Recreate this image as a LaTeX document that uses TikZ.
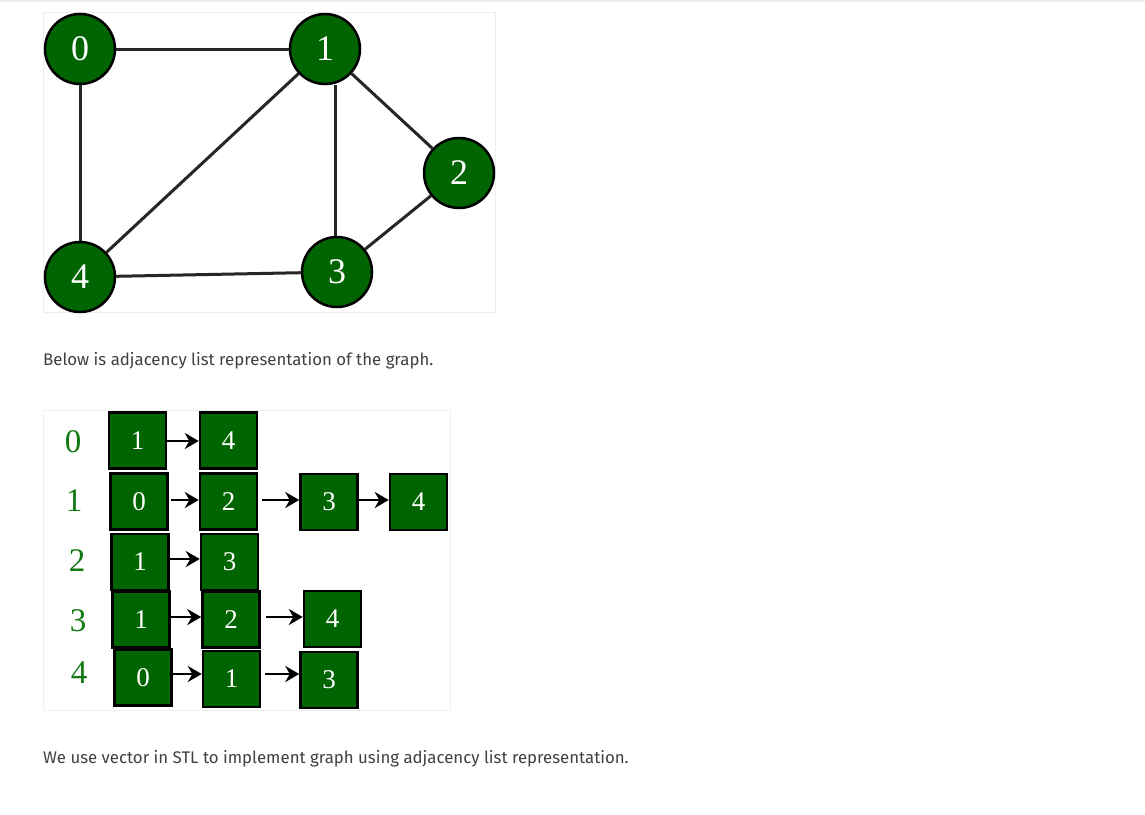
\documentclass[tikz,border=0pt]{standalone}
\usepackage{fontspec}
\setmainfont{Liberation Serif}
\newfontfamily\pagefont{Fira Sans}
\usetikzlibrary{arrows.meta}
\definecolor{gfgreen}{HTML}{006400}
\definecolor{labelgreen}{HTML}{137A13}
\definecolor{panelgray}{HTML}{EEEEEE}
\begin{document}
\begin{tikzpicture}[x=1pt, y=-1pt,
	vertex/.style={circle, draw=black, line width=2.5pt, fill=gfgreen, minimum size=70pt, inner sep=0pt, text=white, font=\fontsize{36}{36}\selectfont},
	cell/.style={rectangle, draw=black, line width=2.5pt, fill=gfgreen, minimum width=57pt, minimum height=56pt, inner sep=0pt, text=white, font=\fontsize{27}{27}\selectfont},
	head/.style={text=labelgreen, font=\fontsize{33}{33}\selectfont, inner sep=0pt},
	edge/.style={line width=3pt, draw=black!85},
	link/.style={line width=2.6pt, -{Stealth[length=14pt, width=16pt]}},
	prose/.style={anchor=base west, inner sep=0pt, text=black!75, font=\pagefont\fontsize{16.8}{20}\selectfont}]
	\useasboundingbox [fill=white] (0,0) rectangle (1145,814);
	\draw [panelgray, line width=3pt] (0,0) -- (1145,0);
	\draw [panelgray, line width=0.8pt] (43,12) rectangle (495,312);
	\draw [panelgray, line width=0.8pt] (43,410) rectangle (450,710);
	% the graph
	\node [vertex] (v0) at (80,49) {0};
	\node [vertex] (v1) at (325,49) {1};
	\node [vertex] (v2) at (459,173) {2};
	\node [vertex] (v3) at (337,272) {3};
	\node [vertex] (v4) at (80,277) {4};
	\coordinate (t13) at (335,85);
	\draw [edge] (v0) -- (v1);
	\draw [edge] (v0) -- (v4);
	\draw [edge] (v1) -- (v2);
	\draw [edge] (v1) -- (v4);
	\draw [edge] (t13) -- (t13 |- v3.north);
	\draw [edge] (v2) -- (v3);
	\draw [edge] (v3) -- (v4);
	\node [prose] (txt1) at (43,365) {Below is adjacency list representation of the graph.};
	% adjacency list
	\node [head] (h0) at (73,442) {0};
	\node [head] (h1) at (74,501) {1};
	\node [head] (h2) at (77,561) {2};
	\node [head] (h3) at (78,621) {3};
	\node [head] (h4) at (79,673) {4};
	\node [cell] (a01) at (137.5,440.5) {1};
	\node [cell] (a04) at (228.5,440.5) {4};
	\node [cell] (a10) at (139,501.5) {0};
	\node [cell] (a12) at (228.5,501.5) {2};
	\node [cell] (a13) at (329,502) {3};
	\node [cell] (a14) at (418.5,502) {4};
	\node [cell] (a21) at (140,562) {1};
	\node [cell] (a23) at (229.5,562) {3};
	\node [cell] (a31) at (141,619.5) {1};
	\node [cell] (a32) at (231,619.5) {2};
	\node [cell] (a34) at (332.5,619) {4};
	\node [cell] (a40) at (143,677.5) {0};
	\node [cell] (a41) at (231.5,679) {1};
	\node [cell] (a43) at (329,680) {3};
	\draw [link] (a01.east |- 0,441) -- (a04.west |- 0,441);
	\draw [link] ([xshift=2pt]a10.east |- 0,500) -- (a12.west |- 0,500);
	\draw [link] ([xshift=4pt]a12.east |- 0,500) -- (a13.west |- 0,500);
	\draw [link] (a13.east |- 0,500) -- (a14.west |- 0,500);
	\draw [link] (a21.east |- 0,559) -- (a23.west |- 0,559);
	\draw [link] (a31.east |- 0,617) -- (a32.west |- 0,617);
	\draw [link] ([xshift=5pt]a32.east |- 0,617) -- (a34.west |- 0,617);
	\draw [link] (a40.east |- 0,674) -- (a41.west |- 0,674);
	\draw [link] ([xshift=4pt]a41.east |- 0,674) -- (a43.west |- 0,674);
	\node [prose] (txt2) at (43,763) {We use vector in STL to implement graph using adjacency list representation.};
\end{tikzpicture}
\end{document}
